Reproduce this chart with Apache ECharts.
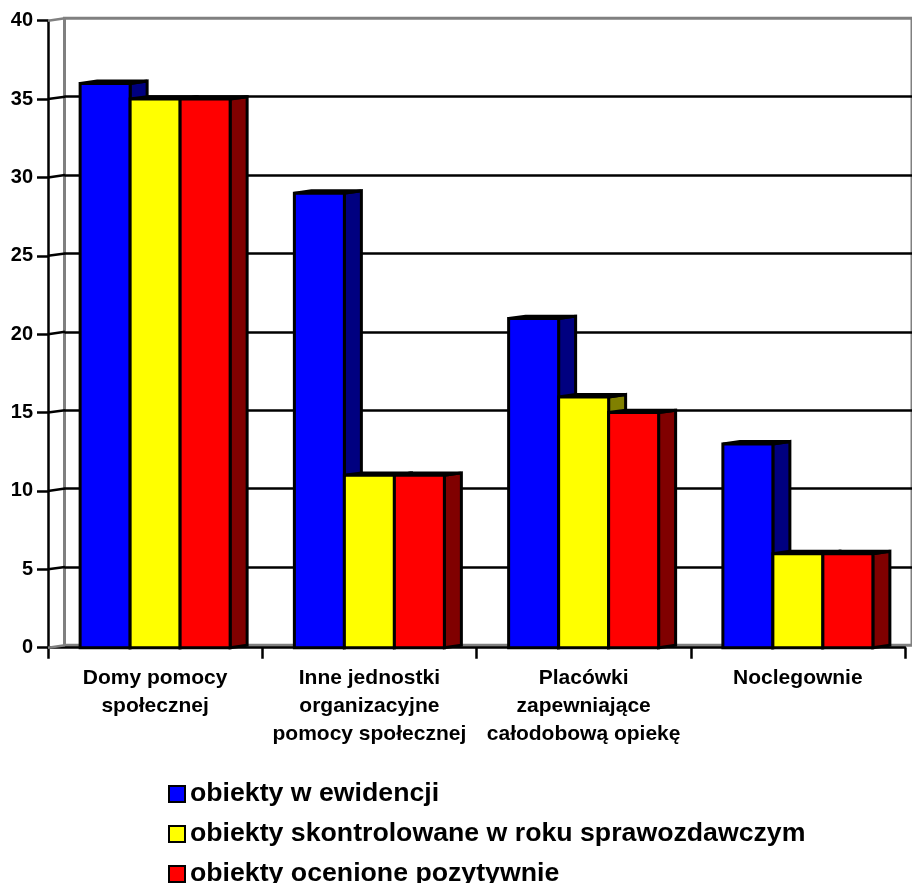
<!DOCTYPE html>
<html><head><meta charset="utf-8">
<style>html,body{margin:0;padding:0;background:#fff}#c{width:912px;height:883px}</style>
<script src="https://cdn.jsdelivr.net/npm/echarts@6/dist/echarts.min.js"></script>
</head><body><div id="c"></div>
<script>
const categories = ['Domy pomocy\nspołecznej','Inne jednostki\norganizacyjne\npomocy społecznej','Placówki\nzapewniające\ncałodobową opiekę','Noclegownie'];
const seriesNames = ['obiekty w ewidencji','obiekty skontrolowane w roku sprawozdawczym','obiekty ocenione pozytywnie'];
const evidence = [36,29,21,13];
const inspected = [35,11,16,6];
const positive = [35,11,15,6];
const tickValues = [0,5,10,15,20,25,30,35,40];
const frontColors = ['#0000ff','#ffff00','#ff0000'];
const sideColors = ['#000080','#808000','#800000'];

const DX = 17, DY = -2.4, BAR = 50;
const font = 'Liberation Sans';

function barRender(si){
  return function(params, api){
    const base = api.coord([api.value(0), 0]);
    const top = api.coord([api.value(0), api.value(1)]);
    const x0 = base[0] - 1.5*BAR + si*BAR, x1 = x0 + BAR;
    const yT = top[1], yB = base[1];
    const st = {stroke:'#000', lineWidth:3, lineJoin:'miter'};
    return {type:'group', children:[
      {type:'polygon', shape:{points:[[x1,yT],[x1+DX,yT+DY],[x1+DX,yB+DY],[x1,yB]]}, style:{fill:sideColors[si],...st}},
      {type:'polygon', shape:{points:[[x0,yT],[x0+DX,yT+DY],[x1+DX,yT+DY],[x1,yT]]}, style:{fill:'#000',...st}},
      {type:'rect', shape:{x:x0,y:yT,width:BAR,height:yB-yT}, style:{fill:frontColors[si],...st}}
    ]};
  };
}
const mk = (arr,si)=>({
  name:seriesNames[si], type:'custom', xAxisIndex:1, yAxisIndex:1, clip:false, z:5+si,
  itemStyle:{color:frontColors[si], borderColor:'#000', borderWidth:3},
  renderItem:barRender(si), encode:{x:0,y:1},
  data:arr.map((v,i)=>[i,v])
});

const chart = echarts.init(document.getElementById('c'),null,{renderer:'canvas'});
chart.setOption({
  animation:false, backgroundColor:'#fff',
  grid:[
    {left:64.5, top:18.3, width:857, height:627, show:true, borderColor:'#808080', borderWidth:3, backgroundColor:'transparent', containLabel:false},
    {left:48, top:20.7, width:857, height:627, containLabel:false}
  ],
  xAxis:[
    {gridIndex:0,type:'category',data:categories,axisLine:{show:false},axisTick:{show:false},axisLabel:{show:false},splitLine:{show:false}},
    {gridIndex:1,type:'category',data:categories,boundaryGap:true,
      axisLine:{show:true,lineStyle:{color:'#000',width:2.5}},
      axisTick:{show:true,length:11,alignWithLabel:false,lineStyle:{color:'#000',width:2.5}},
      axisLabel:{interval:0,margin:17,color:'#000',fontFamily:font,fontWeight:'bold',fontSize:21,lineHeight:28,hideOverlap:false},
      splitLine:{show:false}}
  ],
  yAxis:[
    {gridIndex:0,type:'value',min:0,max:40,interval:5,axisLine:{show:false},axisTick:{show:false},axisLabel:{show:false},
      splitLine:{show:true,showMinLine:false,showMaxLine:false,lineStyle:{color:'#000',width:2.5}}},
    {gridIndex:1,type:'value',min:0,max:40,interval:5,
      axisLine:{show:true,lineStyle:{color:'#000',width:2.5}},
      axisTick:{show:true,length:11,lineStyle:{color:'#000',width:2.5}},
      axisLabel:{margin:15,color:'#000',fontFamily:font,fontWeight:'bold',fontSize:20},
      splitLine:{show:false}}
  ],
  legend:{orient:'vertical',left:168,top:780.5,height:200,padding:0,itemWidth:16,itemHeight:16,itemGap:13,icon:'rect',
    textStyle:{color:'#000',fontFamily:font,fontWeight:'bold',fontSize:26.7,lineHeight:26},
    data:seriesNames},
  series:[
    {type:'custom',xAxisIndex:1,yAxisIndex:1,clip:false,z:2,silent:true,
      renderItem(params,api){
        const v=api.value(0), p=api.coord([0,v]);
        const x=params.coordSys.x;
        const edge=(v===0||v===40);
        return {type:'line',shape:{x1:x,y1:p[1],x2:x+DX,y2:p[1]+DY},
          style:{stroke:edge?'#808080':'#000',lineWidth:2.5}};
      },
      encode:{y:0},
      data:tickValues.map(v=>[v])},
    mk(evidence,0), mk(inspected,1), mk(positive,2)
  ]
});
</script></body></html>
